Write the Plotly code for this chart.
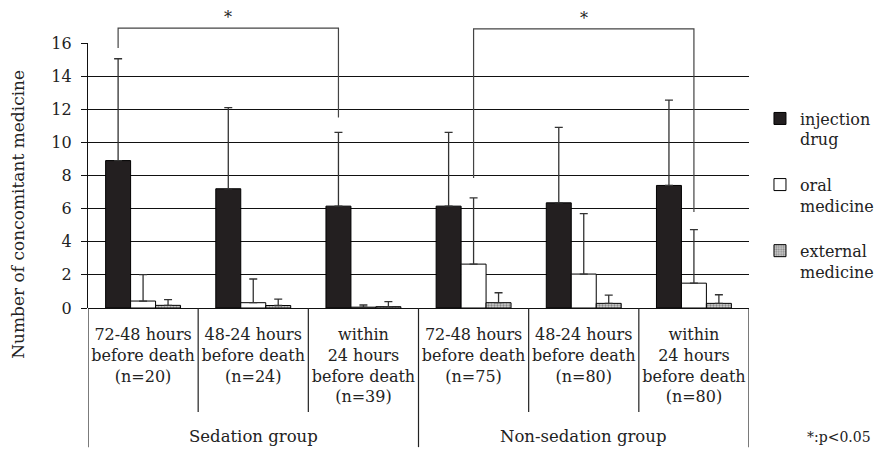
import plotly.graph_objects as go

categories = [
    "72-48 hours<br>before death<br>(n=20)",
    "48-24 hours<br>before death<br>(n=24)",
    "within<br>24 hours<br>before death<br>(n=39)",
    "72-48 hours<br>before death<br>(n=75)",
    "48-24 hours<br>before death<br>(n=80)",
    "within<br>24 hours<br>before death<br>(n=80)",
]
groups = ["Sedation group", "Non-sedation group"]
group_sizes = [3, 3]

injection = [8.9, 7.2, 6.15, 6.15, 6.35, 7.4]
injection_sd = [6.15, 4.9, 4.45, 4.45, 4.55, 5.15]
oral = [0.42, 0.32, 0.05, 2.65, 2.05, 1.5]
oral_sd = [1.6, 1.43, 0.13, 4.0, 3.65, 3.23]
external = [0.16, 0.15, 0.08, 0.32, 0.28, 0.28]
external_sd = [0.34, 0.39, 0.3, 0.6, 0.5, 0.52]

y_ticks = [0, 2, 4, 6, 8, 10, 12, 14, 16]

# significance brackets: (category index, series index, level)
brackets = [
    {"start": (0, 0, 15.7), "end": (2, 0, 11.5), "top": 16.9},
    {"start": (3, 1, 7.85), "end": (5, 1, 5.8), "top": 16.85},
]

FONT = "DejaVu Serif"
INK = "#231f20"
BARGAP = 0.32
YMAX = 16

fig = go.Figure()

def err(sd):
    return dict(type="data", array=sd, arrayminus=[0] * len(sd), symmetric=False,
                color="#333333", thickness=1.3, width=4)

fig.add_trace(go.Bar(name="injection<br>drug", x=categories, y=injection,
                     error_y=err(injection_sd), legendgroup="a",
                     marker=dict(color=INK, line=dict(color="#000", width=1))))
fig.add_trace(go.Bar(name="oral<br>medicine", x=categories, y=oral,
                     error_y=err(oral_sd), legendgroup="b",
                     marker=dict(color="white", line=dict(color="#000", width=1))))
fig.add_trace(go.Bar(name="external<br>medicine", x=categories, y=external,
                     error_y=err(external_sd), legendgroup="c",
                     marker=dict(color="#cfcfcf", line=dict(color="#000", width=1),
                                 pattern=dict(shape=".", fgcolor="#444", size=3, solidity=0.45))))

bw = (1 - BARGAP) / 3
shapes = []
annotations = []
for b in brackets:
    i0, s0, y0 = b["start"]
    i1, s1, y1 = b["end"]
    xa = i0 + (s0 - 1) * bw
    xb = i1 + (s1 - 1) * bw
    top = b["top"] / YMAX
    shapes.append(dict(type="path", xref="x", yref="paper",
                       path=f"M {xa},{y0/YMAX} L {xa},{top} L {xb},{top} L {xb},{y1/YMAX}",
                       line=dict(color="#444", width=1.2)))
    annotations.append(dict(text="*", x=(xa + xb) / 2, y=top - 0.004, xref="x", yref="paper",
                            showarrow=False, yanchor="bottom",
                            font=dict(family=FONT, size=16, color="#222")))

# category dividers below the axis
n = len(categories)
outer = [-0.5]
acc = -0.5
for g in group_sizes:
    acc += g
    outer.append(acc)
for k in range(n + 1):
    xpos = k - 0.5
    ybot = -0.525 if xpos in outer else -0.392
    shapes.append(dict(type="line", xref="x", yref="paper", x0=xpos, x1=xpos, y0=0, y1=ybot,
                       line=dict(color="#222", width=1.2)))

start = 0
for g, size in zip(groups, group_sizes):
    annotations.append(dict(text=g, x=start + (size - 1) / 2, y=-0.486, xref="x", yref="paper",
                            showarrow=False, yanchor="middle",
                            font=dict(family=FONT, size=16.5, color="#222")))
    start += size

annotations.append(dict(text="*:p<0.05", x=1.1876, y=-0.486, xref="paper", yref="paper",
                        xanchor="right", yanchor="middle", showarrow=False,
                        font=dict(family=FONT, size=14, color="#222")))

annotations.append(dict(text="Number of concomitant medicine", textangle=-90,
                        x=-0.106, y=0.355, xref="paper", yref="paper",
                        xanchor="center", yanchor="middle", showarrow=False,
                        font=dict(family=FONT, size=17, color="#222")))

fig.update_layout(
    width=875, height=450,
    margin=dict(l=88, r=126, t=43, b=142, autoexpand=False),
    paper_bgcolor="white", plot_bgcolor="white",
    barmode="group", bargap=BARGAP, bargroupgap=0,
    font=dict(family=FONT, size=15, color="#222"),
    shapes=shapes, annotations=annotations,
    legend=dict(x=1.0166, y=0.779, xanchor="left", yanchor="top", valign="top",
                tracegroupgap=21.5, font=dict(family=FONT, size=16, color="#222"),
                bgcolor="rgba(0,0,0,0)"),
    xaxis=dict(type="category", range=[-0.5, 5.5], showgrid=False, showline=False,
               zeroline=False, ticks="", ticklabelstandoff=15, automargin=False,
               tickfont=dict(family=FONT, size=16, color="#222")),
    yaxis=dict(range=[0, YMAX], tickvals=y_ticks, showgrid=True, gridcolor="#111",
               gridwidth=1.3, zeroline=True, zerolinecolor="#111", zerolinewidth=1.3,
               showline=True, linecolor="#111", linewidth=1.3, automargin=False,
               ticks="outside", ticklen=6, tickcolor="#111", tickwidth=1.3,
               ticklabelstandoff=6,
               tickfont=dict(family=FONT, size=16, color="#222")),
)

fig.write_html("out.html", config={"displayModeBar": False},
               post_script="document.body.style.margin='0px';")
